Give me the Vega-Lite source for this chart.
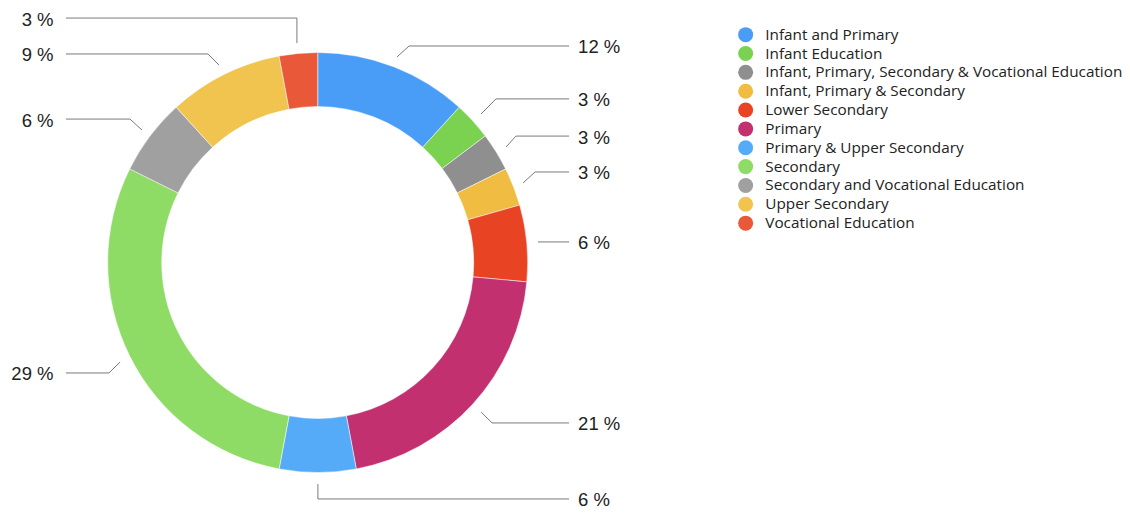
{
  "$schema": "https://vega.github.io/schema/vega-lite/v6.json",
  "width": 1130,
  "height": 514,
  "autosize": {"type": "none"},
  "padding": 0,
  "background": "white",
  "config": {"view": {"stroke": null}, "font": "Liberation Sans"},
  "datasets": {
    "slices": [
      {"category": "Infant and Primary", "count": 4, "rank": 1},
      {"category": "Infant Education", "count": 1, "rank": 2},
      {"category": "Infant, Primary, Secondary & Vocational Education", "count": 1, "rank": 3},
      {"category": "Infant, Primary & Secondary", "count": 1, "rank": 4},
      {"category": "Lower Secondary", "count": 2, "rank": 5},
      {"category": "Primary", "count": 7, "rank": 6},
      {"category": "Primary & Upper Secondary", "count": 2, "rank": 7},
      {"category": "Secondary", "count": 10, "rank": 8},
      {"category": "Secondary and Vocational Education", "count": 2, "rank": 9},
      {"category": "Upper Secondary", "count": 3, "rank": 10},
      {"category": "Vocational Education", "count": 1, "rank": 11}
    ],
    "leaders": [
      {"category": "Vocational Education", "seq": 1, "x": -119.9, "y": 116.4},
      {"category": "Vocational Education", "seq": 2, "x": -9.9, "y": 116.4},
      {"category": "Vocational Education", "seq": 3, "x": -9.9, "y": 104.5},
      {"category": "Upper Secondary", "seq": 1, "x": -119.9, "y": 99.3},
      {"category": "Upper Secondary", "seq": 2, "x": -52.2, "y": 99.3},
      {"category": "Upper Secondary", "seq": 3, "x": -47.0, "y": 94.0},
      {"category": "Secondary and Vocational Education", "seq": 1, "x": -119.9, "y": 68.3},
      {"category": "Secondary and Vocational Education", "seq": 2, "x": -89.4, "y": 68.3},
      {"category": "Secondary and Vocational Education", "seq": 3, "x": -83.7, "y": 63.1},
      {"category": "Secondary", "seq": 1, "x": -119.9, "y": -52.6},
      {"category": "Secondary", "seq": 2, "x": -99.4, "y": -52.6},
      {"category": "Secondary", "seq": 3, "x": -94.1, "y": -47.4},
      {"category": "Infant and Primary", "seq": 1, "x": 37.8, "y": 97.9},
      {"category": "Infant and Primary", "seq": 2, "x": 43.5, "y": 103.1},
      {"category": "Infant and Primary", "seq": 3, "x": 119.7, "y": 103.1},
      {"category": "Infant Education", "seq": 1, "x": 77.8, "y": 70.7},
      {"category": "Infant Education", "seq": 2, "x": 84.9, "y": 77.9},
      {"category": "Infant Education", "seq": 3, "x": 119.7, "y": 77.9},
      {"category": "Infant, Primary, Secondary & Vocational Education", "seq": 1, "x": 89.7, "y": 55.0},
      {"category": "Infant, Primary, Secondary & Vocational Education", "seq": 2, "x": 94.4, "y": 60.2},
      {"category": "Infant, Primary, Secondary & Vocational Education", "seq": 3, "x": 119.7, "y": 60.2},
      {"category": "Infant, Primary & Secondary", "seq": 1, "x": 97.8, "y": 37.9},
      {"category": "Infant, Primary & Secondary", "seq": 2, "x": 103.5, "y": 43.1},
      {"category": "Infant, Primary & Secondary", "seq": 3, "x": 119.7, "y": 43.1},
      {"category": "Lower Secondary", "seq": 1, "x": 104.9, "y": 9.8},
      {"category": "Lower Secondary", "seq": 2, "x": 119.7, "y": 9.8},
      {"category": "Primary", "seq": 1, "x": 77.8, "y": -71.2},
      {"category": "Primary", "seq": 2, "x": 83.0, "y": -76.4},
      {"category": "Primary", "seq": 3, "x": 119.7, "y": -76.4},
      {"category": "Primary & Upper Secondary", "seq": 1, "x": 0.1, "y": -105.5},
      {"category": "Primary & Upper Secondary", "seq": 2, "x": 0.1, "y": -112.6},
      {"category": "Primary & Upper Secondary", "seq": 3, "x": 119.7, "y": -112.6}
    ],
    "labels": [
      {"label": "3 %", "side": "left", "x": -125.8, "y": 116.4},
      {"label": "9 %", "side": "left", "x": -125.8, "y": 99.3},
      {"label": "6 %", "side": "left", "x": -125.8, "y": 68.3},
      {"label": "29 %", "side": "left", "x": -125.8, "y": -52.6},
      {"label": "12 %", "side": "right", "x": 124.0, "y": 103.1},
      {"label": "3 %", "side": "right", "x": 124.0, "y": 77.9},
      {"label": "3 %", "side": "right", "x": 124.0, "y": 60.2},
      {"label": "3 %", "side": "right", "x": 124.0, "y": 43.1},
      {"label": "6 %", "side": "right", "x": 124.0, "y": 9.8},
      {"label": "21 %", "side": "right", "x": 124.0, "y": -76.4},
      {"label": "6 %", "side": "right", "x": 124.0, "y": -112.6}
    ]
  },
  "layer": [
    {
      "data": {"name": "slices"},
      "mark": {"type": "arc", "innerRadius": 156, "outerRadius": 210, "stroke": "white", "strokeWidth": 0.5},
      "encoding": {
        "x": {"datum": 0, "type": "quantitative", "scale": {"domain": [-151.29, 386.81], "nice": false, "zero": false}, "axis": null},
        "y": {"datum": 0, "type": "quantitative", "scale": {"domain": [-119.76, 125.0], "nice": false, "zero": false}, "axis": null},
        "theta": {"field": "count", "type": "quantitative", "stack": true},
        "order": {"field": "rank", "type": "quantitative"},
        "color": {
          "field": "category",
          "type": "nominal",
          "sort": ["Infant and Primary", "Infant Education", "Infant, Primary, Secondary & Vocational Education", "Infant, Primary & Secondary", "Lower Secondary", "Primary", "Primary & Upper Secondary", "Secondary", "Secondary and Vocational Education", "Upper Secondary", "Vocational Education"],
          "scale": {
            "domain": ["Infant and Primary", "Infant Education", "Infant, Primary, Secondary & Vocational Education", "Infant, Primary & Secondary", "Lower Secondary", "Primary", "Primary & Upper Secondary", "Secondary", "Secondary and Vocational Education", "Upper Secondary", "Vocational Education"],
            "range": ["#4A9DF6", "#7AD250", "#8F8F8F", "#F0BC42", "#E84424", "#C2306F", "#56ABF8", "#8EDB66", "#A0A0A0", "#F0C44E", "#E85839"]
          },
          "legend": {
            "orient": "none",
            "legendX": 738,
            "legendY": 27,
            "title": null,
            "padding": 0,
            "symbolType": "circle",
            "symbolSize": 225,
            "symbolStrokeWidth": 0,
            "labelFont": "Open Sans",
            "labelFontSize": 15.3,
            "labelColor": "#222222",
            "labelOffset": 12,
            "labelLimit": 500,
            "rowPadding": 2.85
          }
        }
      }
    },
    {
      "data": {"name": "leaders"},
      "mark": {"type": "line", "color": "#7a7a7a", "strokeWidth": 1},
      "encoding": {
        "x": {"field": "x", "type": "quantitative", "scale": {"domain": [-151.29, 386.81], "nice": false, "zero": false}, "axis": null},
        "y": {"field": "y", "type": "quantitative", "scale": {"domain": [-119.76, 125.0], "nice": false, "zero": false}, "axis": null},
        "detail": {"field": "category", "type": "nominal"},
        "order": {"field": "seq", "type": "quantitative"}
      }
    },
    {
      "data": {"name": "labels"},
      "transform": [{"filter": "datum.side === 'left'"}],
      "mark": {"type": "text", "align": "right", "baseline": "middle", "fontSize": 18.5, "color": "#222222", "font": "Liberation Sans", "dy": 1.5},
      "encoding": {
        "x": {"field": "x", "type": "quantitative", "scale": {"domain": [-151.29, 386.81], "nice": false, "zero": false}, "axis": null},
        "y": {"field": "y", "type": "quantitative", "scale": {"domain": [-119.76, 125.0], "nice": false, "zero": false}, "axis": null},
        "text": {"field": "label", "type": "nominal"}
      }
    },
    {
      "data": {"name": "labels"},
      "transform": [{"filter": "datum.side === 'right'"}],
      "mark": {"type": "text", "align": "left", "baseline": "middle", "fontSize": 18.5, "color": "#222222", "font": "Liberation Sans", "dy": 1.5},
      "encoding": {
        "x": {"field": "x", "type": "quantitative", "scale": {"domain": [-151.29, 386.81], "nice": false, "zero": false}, "axis": null},
        "y": {"field": "y", "type": "quantitative", "scale": {"domain": [-119.76, 125.0], "nice": false, "zero": false}, "axis": null},
        "text": {"field": "label", "type": "nominal"}
      }
    }
  ]
}
